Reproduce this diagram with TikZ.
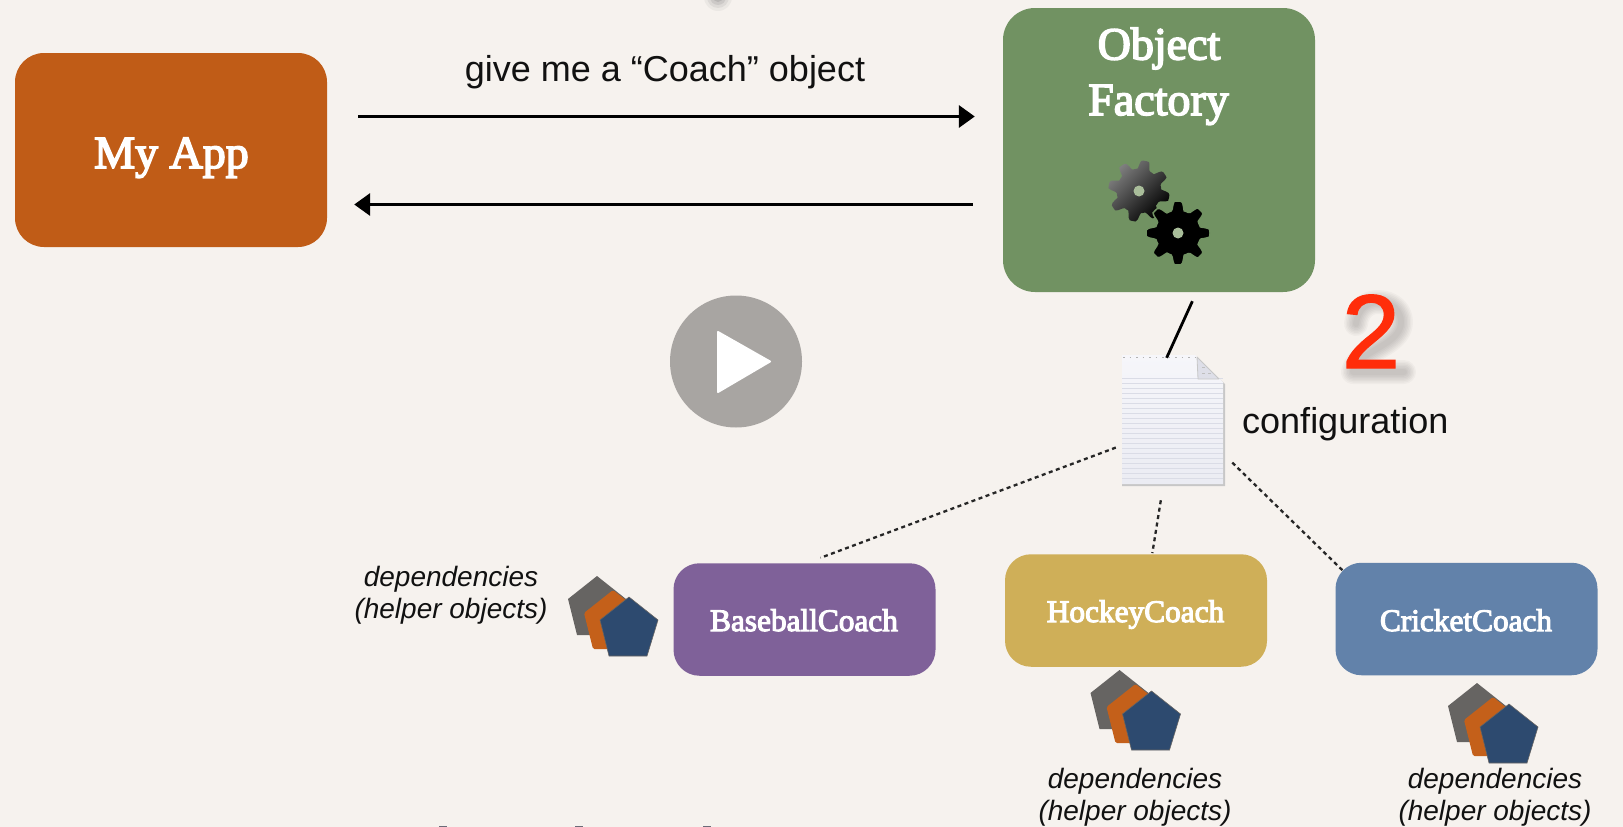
\documentclass[tikz,border=0pt]{standalone}
\usepackage{fontspec}
\setmainfont{Liberation Serif}
\setsansfont{Liberation Sans}
\newfontfamily\semib[FakeBold=3.5]{Liberation Serif}
\newfontfamily\redtwo[FakeBold=1.2]{Liberation Sans}
\usetikzlibrary{arrows.meta}
\definecolor{paper}{HTML}{F6F2EE}
\definecolor{appc}{HTML}{C05C17}
\definecolor{factc}{HTML}{719262}
\definecolor{basec}{HTML}{7F6199}
\definecolor{hockc}{HTML}{CFAF58}
\definecolor{cricc}{HTML}{6282AA}
\definecolor{navyc}{HTML}{2D4A6F}
\definecolor{orangec}{HTML}{C4601A}
\definecolor{grayc}{HTML}{666462}
\definecolor{redc}{HTML}{FF2D0A}
\definecolor{playc}{HTML}{A8A5A2}
\definecolor{textc}{HTML}{111111}
\definecolor{markc}{HTML}{6B6B78}
\definecolor{holec}{HTML}{A9BD9A}
\definecolor{doctop}{HTML}{F6F6FA}
\definecolor{docbot}{HTML}{EBECF3}
\definecolor{docline}{HTML}{DADCE6}
\definecolor{docfold}{HTML}{DEDFE8}
\tikzset{
  box/.style={rectangle,inner sep=0pt},
  coach/.style={box,rounded corners=26pt,minimum width=262pt,minimum height=112.5pt},
  coachtext/.style={inner sep=0pt,anchor=base,text=white,font=\semib\fontsize{31.3}{31}\selectfont},
  bigtext/.style={inner sep=0pt,anchor=base,text=white,font=\semib\fontsize{46}{46}\selectfont},
  sanslabel/.style={inner sep=0pt,anchor=base,text=textc,font=\sffamily\fontsize{36}{36}\selectfont},
  deplabel/.style={inner sep=0pt,anchor=center,align=center,text=textc,font=\sffamily\itshape\fontsize{28}{32}\selectfont},
  msg/.style={line width=3.4pt,black,-{Triangle[length=16pt,width=22pt]}},
  depline/.style={line width=2.3pt,black!85,dash pattern=on 4pt off 3.5pt},
  deps/.pic={
    \fill[grayc] (-32,-21)--(-3,2)--(-14,38)--(-52,38)--(-61,2)--cycle;
    \fill[orangec,rounded corners=1.5pt] (-16,-7)--(13,16)--(2,52)--(-36,52)--(-45,16)--cycle;
    \filldraw[fill=navyc,draw=grayc,line width=.6pt] (0,0)--(29,23)--(18,59)--(-20,59)--(-29,23)--cycle;
  },
  gearshape/.style={smooth cycle,samples=97,domain=0:356},
  twoshadow/.style={black,line cap=round,line join=round,opacity=.028}
}
\newcommand{\twopath}{(1356,324) .. controls (1358,308) and (1368,302) .. (1378,302) .. controls (1392,302) and (1401,311) .. (1401,322) .. controls (1401,346) and (1356,351) .. (1353,372) -- (1404,372)}
\begin{document}
\begin{tikzpicture}[x=1pt,y=-1pt]
\useasboundingbox (0,0) rectangle (1623,827);
\fill[paper] (0,0) rectangle (1623,827);
% blurred fragment at the top edge
\foreach \r/\o in {14/.07,11/.1,8/.14,5/.18}{\fill[black!60,opacity=\o] (718,-3) circle (\r);}
% cropped marks at the bottom edge
\foreach \x in {439,575,703}{\fill[markc] (\x,826) rectangle ++(8,1);}

% main boxes
\node[box,fill=appc,rounded corners=29pt,minimum width=312pt,minimum height=194pt] (app) at (171,150) {};
\node[bigtext] (applabel) at (171.5,168) {My App};
\node[box,fill=factc,rounded corners=32pt,minimum width=312pt,minimum height=284pt] (factory) at (1159,150) {};
\node[bigtext] (objlabel) at (1159,59.5) {Object};
\node[bigtext] (factlabel) at (1158.5,115) {Factory};

% gears
\begin{scope}[shift={(1139,191)}]
  \path[shade,top color=black!50,bottom color=black,shading angle=45]
    plot[gearshape] (\x:{26.5+4.2*max(min(1.8*cos(8*(\x-12)),1),-1)});
  \fill[holec] (0,0) circle (5.5);
\end{scope}
\begin{scope}[shift={(1178,233)}]
  \filldraw[fill=black,draw=factc,line width=1.5pt]
    plot[gearshape] (\x:{27.5+4.5*max(min(1.8*cos(8*(\x-90)),1),-1)});
  \fill[holec] (0,0) circle (5.5);
\end{scope}

% messages
\coordinate (lineA) at (0,116.5);
\coordinate (lineB) at (0,204.5);
\node[sanslabel] (msglabel) at (665,81) {give me a “Coach” object};
\draw[msg,shorten <=31pt,shorten >=28pt] (app.east |- lineA) -- (factory.west |- lineA);
\draw[msg,shorten <=30pt,shorten >=27pt] (factory.west |- lineB) -- (app.east |- lineB);

% play button
\node[circle,fill=playc,minimum size=132pt,inner sep=0pt] (play) at (736,361.5) {};
\fill[white,draw=white,line width=2pt,line join=round] (718,332)--(770,361.5)--(718,392)--cycle;

% configuration document
\node[box,minimum width=101pt,minimum height=129pt] (doc) at (1172.5,419.5) {};
\fill[black!22] (1122,357) -- (1196,357) -- (1225,384) -- (1225,486) -- (1122,486) -- cycle;
\path[shade,top color=doctop,bottom color=docbot]
  (1122,355) -- (1195,355) -- (1223,382) -- (1223,484) -- (1122,484) -- cycle;
\foreach \y in {378,383,...,479}{\draw[docline,line width=.7pt] (1122,\y) -- (1223,\y);}
\draw[black!30,line width=1pt,dash pattern=on 1.5pt off 5pt] (1123,357) -- (1195,357);
\filldraw[fill=docfold,draw=black!22,line width=.8pt,line join=round] (1197,357) -- (1198,379) -- (1219,379) -- cycle;
\draw[black!25,line width=1pt,dash pattern=on 3pt off 3pt] (1202,367) -- (1208,367) (1202,373) -- (1212,373);

% document links
\coordinate (colA) at (1196.5,0);
\coordinate (colB) at (1168,0);
\draw[line width=2.8pt,black,shorten <=9.9pt,shorten >=-3.3pt] (factory.south -| colA) -- (doc.north -| colB);

% coaches
\node[coach,fill=basec] (baseball) at (804.5,619.5) {};
\node[coachtext] (baselabel) at (804,631) {BaseballCoach};
\node[coach,fill=hockc] (hockey) at (1136,610.5) {};
\node[coachtext] (hocklabel) at (1135.5,622) {HockeyCoach};
\node[coach,fill=cricc] (cricket) at (1466.5,619) {};
\node[coachtext] (criclabel) at (1466,631) {CricketCoach};

\draw[depline,shorten <=6.4pt,shorten >=15pt] (doc.207.7) -- (baseball.88.5);
\draw[depline,shorten <=16.3pt,shorten >=1pt] (doc.262.3) -- (hockey.74.7);
\draw[depline,shorten <=12.7pt,shorten >=-10pt] (doc.326.4) -- (cricket.157.5);

% config labels
\node[sanslabel,anchor=base west] (conflabel) at (1242,433) {configuration};
\foreach \w in {24,21,18,15,12,9,6}{\draw[twoshadow,line width=\w pt] \twopath;}
\node[inner sep=0pt,anchor=base,text=redc,font=\redtwo\fontsize{105}{105}\selectfont] (two) at (1371,368) {2};

% dependency stacks and labels
\pic at (629,597) {deps};
\pic at (1151.5,691) {deps};
\pic at (1509,704) {deps};
\node[deplabel] (dep1) at (451,595) {dependencies\\(helper objects)};
\node[deplabel] (dep2) at (1135,797) {dependencies\\(helper objects)};
\node[deplabel] (dep3) at (1495,797) {dependencies\\(helper objects)};
\end{tikzpicture}
\end{document}
